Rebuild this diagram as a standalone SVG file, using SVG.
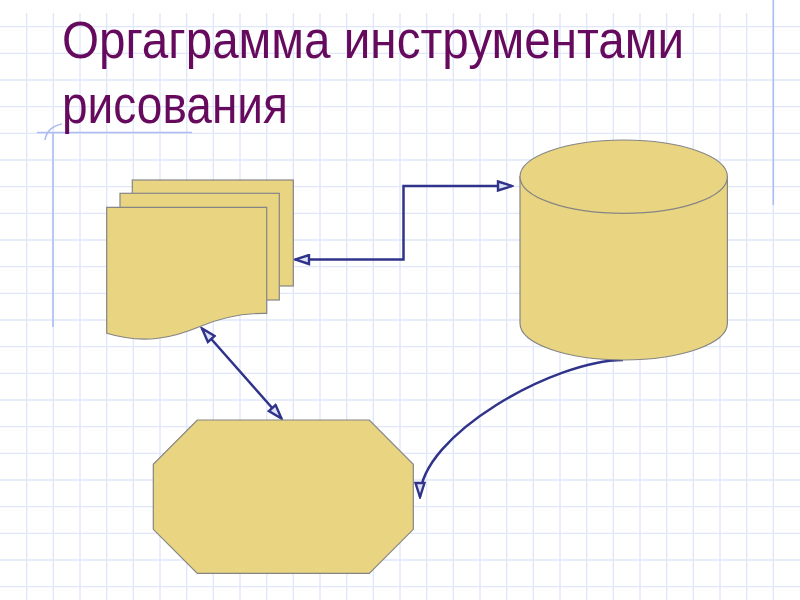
<svg xmlns="http://www.w3.org/2000/svg" width="800" height="600" viewBox="0 0 800 600">
  <style>
    .grid { stroke: #e0e7f9; stroke-width: 1.4; fill: none; }
    .margin { stroke: #aebcf0; stroke-width: 1.6; fill: none; }
    .shape { fill: #e9d581; stroke: #858585; stroke-width: 1.2; }
    .conn { stroke: #30338a; stroke-width: 2.5; fill: none; }
    .title { font-family: "Liberation Sans", "DejaVu Sans", sans-serif; font-size: 51px; fill: #660a5e; }
  </style>
  <defs>
    <marker id="arrow" markerUnits="userSpaceOnUse" viewBox="0 0 18 12" markerWidth="18" markerHeight="12" refX="16" refY="6" orient="auto-start-reverse">
      <path d="M2,1.5 L16,6 L2,10.5 Z" fill="#dfe2f4" stroke="#30338a" stroke-width="2.4" stroke-linejoin="miter"/>
    </marker>
  </defs>
  <rect width="800" height="600" fill="#ffffff"/>
  <g id="background">
    <path class="grid" d="M26.67 13V600 M53.33 13V600 M80 13V600 M106.67 13V600 M133.33 13V600 M160 13V600 M186.67 13V600 M213.33 13V600 M240 13V600 M266.67 13V600 M293.33 13V600 M320 13V600 M346.67 13V600 M373.33 13V600 M400 13V600 M426.67 13V600 M453.33 13V600 M480 13V600 M506.67 13V600 M533.33 13V600 M560 13V600 M586.67 13V600 M613.33 13V600 M640 13V600 M666.67 13V600 M693.33 13V600 M720 13V600 M746.67 13V600 M773.33 13V600
      M0 26.67H800 M0 53.33H800 M0 80H800 M0 106.67H800 M0 133.33H800 M0 160H800 M0 186.67H800 M0 213.33H800 M0 240H800 M0 266.67H800 M0 293.33H800 M0 320H800 M0 346.67H800 M0 373.33H800 M0 400H800 M0 426.67H800 M0 453.33H800 M0 480H800 M0 506.67H800 M0 533.33H800 M0 560H800 M0 586.67H800"/>
    <path class="margin" d="M773.3 0V205 M37 132.5H192 M53 133V327 M45 140 Q47 127 62 124"/>
  </g>
  <g id="title">
    <text class="title" x="62" y="58" textLength="622" lengthAdjust="spacingAndGlyphs">Оргаграмма инструментами</text>
    <text class="title" x="62" y="123" textLength="226" lengthAdjust="spacingAndGlyphs">рисования</text>
  </g>
  <g id="connectors">
    <path class="conn" d="M295,259.5 H403.5 V186 H512" marker-start="url(#arrow)" marker-end="url(#arrow)"/>
    <path class="conn" d="M202,328.5 L281.5,418.5" marker-start="url(#arrow)" marker-end="url(#arrow)"/>
    <path class="conn" d="M623,360 C555,360 420,435 420,497" marker-end="url(#arrow)"/>
  </g>
  <g id="documents">
    <rect class="shape" x="132.3" y="180" width="161" height="106"/>
    <rect class="shape" x="120" y="193.3" width="159.3" height="106.7"/>
    <path class="shape" d="M106.7,207.3 H266.7 V313.3 C245,313 225,316 200,326.5 C175,337 145,345 106.7,333.3 Z"/>
  </g>
  <g id="cylinder">
    <path class="shape" d="M520,176.7 V323.3 A103.7,36.7 0 0 0 727.4,323.3 V176.7 Z"/>
    <ellipse class="shape" cx="623.7" cy="176.7" rx="103.7" ry="36.7"/>
  </g>
  <g id="octagon">
    <polygon class="shape" points="197.3,420 369.3,420 413.3,464.3 413.3,529.3 369.3,573.3 197.3,573.3 153.3,529.3 153.3,464.3"/>
  </g>
</svg>
